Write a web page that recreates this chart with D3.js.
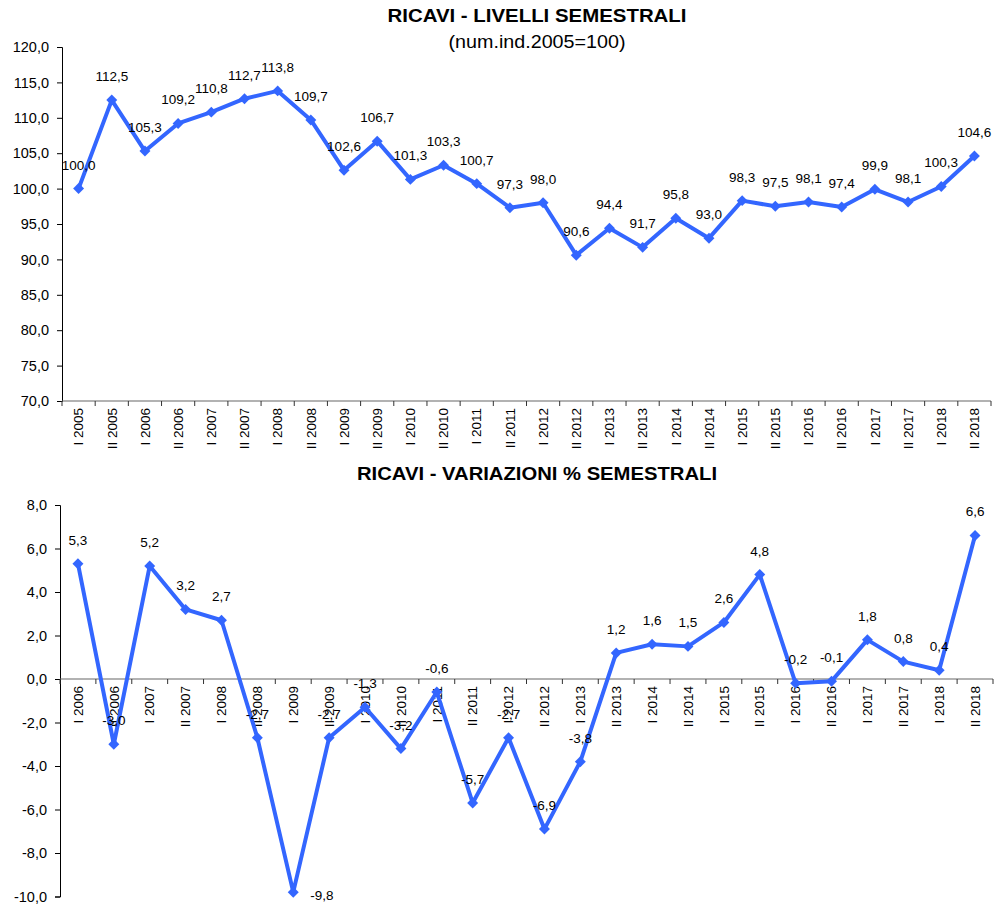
<!DOCTYPE html>
<html>
<head>
<meta charset="utf-8">
<script src="https://cdn.jsdelivr.net/npm/d3@7"></script>
<style>
  body { margin: 0; background: #fff; }
  text { font-family: "Liberation Sans", Arial, sans-serif; fill: #000; }
</style>
</head>
<body>
<script>
// --- data ---
var livelliPeriodi = ["I 2005","II 2005","I 2006","II 2006","I 2007","II 2007","I 2008","II 2008",
  "I 2009","II 2009","I 2010","II 2010","I 2011","II 2011","I 2012","II 2012","I 2013","II 2013",
  "I 2014","II 2014","I 2015","II 2015","I 2016","II 2016","I 2017","II 2017","I 2018","II 2018"];
var livelliValori = [100.0,112.5,105.3,109.2,110.8,112.7,113.8,109.7,102.6,106.7,101.3,103.3,100.7,97.3,
  98.0,90.6,94.4,91.7,95.8,93.0,98.3,97.5,98.1,97.4,99.9,98.1,100.3,104.6];
var livelliTicks = [70,75,80,85,90,95,100,105,110,115,120];

var variazPeriodi = ["I 2006","II 2006","I 2007","II 2007","I 2008","II 2008","I 2009","II 2009",
  "I 2010","II 2010","I 2011","II 2011","I 2012","II 2012","I 2013","II 2013","I 2014","II 2014",
  "I 2015","II 2015","I 2016","II 2016","I 2017","II 2017","I 2018","II 2018"];
var variazValori = [5.3,-3.0,5.2,3.2,2.7,-2.7,-9.8,-2.7,-1.3,-3.2,-0.6,-5.7,-2.7,-6.9,-3.8,1.2,1.6,1.5,
  2.6,4.8,-0.2,-0.1,1.8,0.8,0.4,6.6];
var variazTicks = [-10,-8,-6,-4,-2,0,2,4,6,8];

var blu = "#3366ff";

var it = d3.formatLocale({decimal: ",", thousands: ".", grouping: [3], currency: ["", "€"], minus: "-"});
var fmt = it.format(".1f");

var svg = d3.select("body").append("svg")
    .attr("width", 998)
    .attr("height", 905);

function grafico(c) {
    var g = svg.append("g");

    var x = d3.scaleBand()
        .domain(c.periodi)
        .range([c.left, c.right])
        .padding(0);

    var y = d3.scaleLinear()
        .domain(c.dominio)
        .range([c.bottom, c.top]);

    var xc = function(p) { return x(p) + x.bandwidth() / 2; };
    var asseY = y(c.asseX);

    // y axis
    var ay = g.append("g")
        .attr("transform", "translate(" + c.left + ",0)")
        .call(d3.axisLeft(y).tickValues(c.ticks).tickFormat(fmt).tickSize(5).tickPadding(8));
    ay.select(".domain").attr("stroke", "#000");
    ay.selectAll(".tick line").attr("stroke", "#000");
    ay.selectAll(".tick text").attr("font-size", 14.5);

    // x axis line + ticks on band boundaries
    g.append("line")
        .attr("x1", c.left).attr("x2", c.right)
        .attr("y1", asseY).attr("y2", asseY)
        .attr("stroke", "#666").attr("stroke-width", 1.2);

    var bordi = c.periodi.map(function(p) { return x(p); }).concat([c.right]);
    g.selectAll(".xtick")
        .data(bordi)
        .enter().append("line")
        .attr("x1", function(d) { return d; })
        .attr("x2", function(d) { return d; })
        .attr("y1", asseY).attr("y2", asseY + 5)
        .attr("stroke", "#333");

    g.selectAll(".xlab")
        .data(c.periodi)
        .enter().append("text")
        .attr("transform", function(d) { return "translate(" + xc(d) + "," + (asseY + 7) + ") rotate(-90)"; })
        .attr("text-anchor", "end")
        .attr("dy", "0.35em")
        .attr("font-size", 13.5)
        .text(function(d) { return d; });

    // line
    var punti = c.periodi.map(function(p, i) { return {p: p, v: c.valori[i]}; });

    g.append("path")
        .datum(punti)
        .attr("fill", "none")
        .attr("stroke", blu)
        .attr("stroke-width", 4)
        .attr("stroke-linejoin", "round")
        .attr("d", d3.line().x(function(d) { return xc(d.p); }).y(function(d) { return y(d.v); }));

    g.selectAll(".mk")
        .data(punti)
        .enter().append("path")
        .attr("transform", function(d) { return "translate(" + xc(d.p) + "," + y(d.v) + ") rotate(45)"; })
        .attr("d", d3.symbol(d3.symbolSquare, 60))
        .attr("fill", blu);

    var minV = d3.min(c.valori);
    g.selectAll(".lab")
        .data(punti)
        .enter().append("text")
        .attr("font-size", 13.5)
        .attr("text-anchor", function(d) { return (c.minADestra && d.v === minV) ? "start" : "middle"; })
        .attr("x", function(d) { return (c.minADestra && d.v === minV) ? xc(d.p) + 17 : xc(d.p); })
        .attr("y", function(d) { return (c.minADestra && d.v === minV) ? y(d.v) + 8 : y(d.v) - 19; })
        .text(function(d) { return fmt(d.v); });

    // titles
    c.titoli.forEach(function(t) {
        g.append("text")
            .attr("x", 537)
            .attr("y", t.y)
            .attr("text-anchor", "middle")
            .attr("font-size", t.size)
            .attr("font-weight", t.bold ? "bold" : "normal")
            .attr("textLength", t.len)
            .attr("lengthAdjust", "spacingAndGlyphs")
            .text(t.testo);
    });
}

grafico({
    periodi: livelliPeriodi, valori: livelliValori, ticks: livelliTicks,
    dominio: [70, 120], asseX: 70,
    left: 62, right: 991, top: 47, bottom: 401,
    titoli: [
        {testo: "RICAVI - LIVELLI SEMESTRALI", y: 22, size: 18, bold: true, len: 299},
        {testo: "(num.ind.2005=100)", y: 48, size: 18, bold: false, len: 177}
    ]
});

grafico({
    periodi: variazPeriodi, valori: variazValori, ticks: variazTicks,
    dominio: [-10, 8], asseX: 0,
    left: 60, right: 993, top: 505, bottom: 896.5,
    minADestra: true,
    titoli: [
        {testo: "RICAVI - VARIAZIONI % SEMESTRALI", y: 480, size: 18, bold: true, len: 360}
    ]
});
</script>
</body>
</html>
